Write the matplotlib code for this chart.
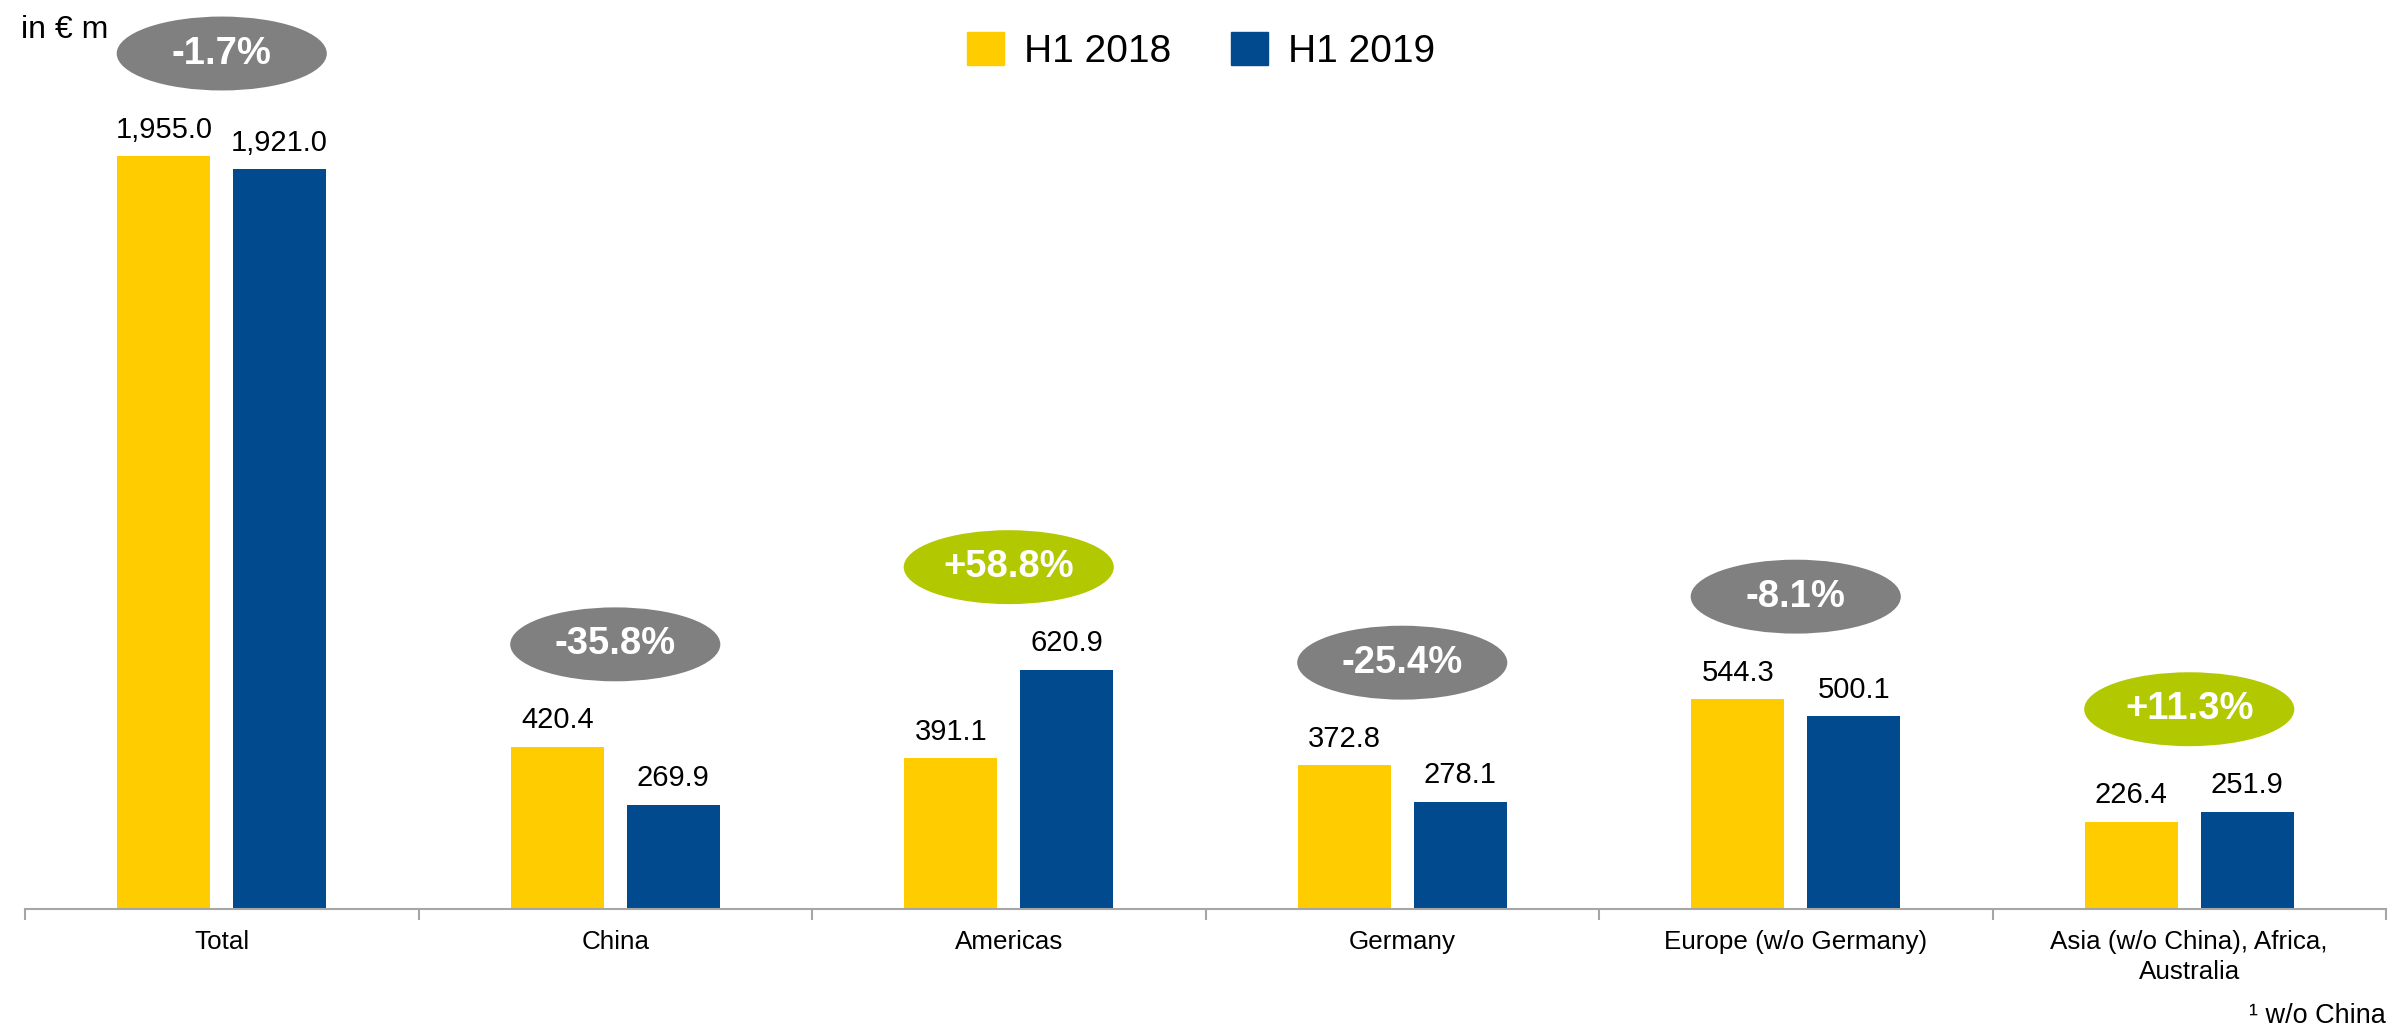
import matplotlib
matplotlib.use("Agg")
import matplotlib.pyplot as plt
from matplotlib.patches import Ellipse, Patch
import numpy as np

plt.rcParams['font.family'] = ['Liberation Sans', 'DejaVu Sans']

categories = ["Total", "China", "Americas", "Germany", "Europe (w/o Germany)",
              "Asia (w/o China), Africa,\nAustralia"]
h1_2018 = [1955.0, 420.4, 391.1, 372.8, 544.3, 226.4]
h1_2019 = [1921.0, 269.9, 620.9, 278.1, 500.1, 251.9]
changes = ["-1.7%", "-35.8%", "+58.8%", "-25.4%", "-8.1%", "+11.3%"]
series_names = ["H1 2018", "H1 2019"]

YELLOW = "#FFCC00"
BLUE = "#004A8D"
GRAY = "#808080"
GREEN = "#B2C800"
AXIS = "#A6A6A6"

W, H = 2403, 1030
fig = plt.figure(figsize=(W / 100, H / 100), dpi=100)
ax = fig.add_axes([25 / W, 1 - 909 / H, (2386 - 25) / W, 909 / H])

x = np.arange(len(categories))
bw = 0.236
off = 0.147
b1 = ax.bar(x - off, h1_2018, bw, color=YELLOW, label=series_names[0])
b2 = ax.bar(x + off, h1_2019, bw, color=BLUE, label=series_names[1])

for bars, vals in ((b1, h1_2018), (b2, h1_2019)):
    for r, v in zip(bars, vals):
        ax.annotate(f"{v:,.1f}", (r.get_x() + r.get_width() / 2, v),
                    xytext=(0, 13.5), textcoords="offset points",
                    ha="center", va="baseline", fontsize=21, color="black")

ax.set_xlim(-0.5, len(categories) - 0.5)
ax.set_ylim(0, 2361)

for i, c in enumerate(changes):
    yc = max(h1_2018[i], h1_2019[i]) + 267
    col = GREEN if c.startswith("+") else GRAY
    ax.add_patch(Ellipse((x[i], yc), width=0.534, height=192, facecolor=col,
                         edgecolor="none", zorder=3))
    ax.text(x[i], yc, c, ha="center", va="center", color="white",
            fontsize=27.5, fontweight="bold", zorder=4)

for s in ("top", "right", "left"):
    ax.spines[s].set_visible(False)
ax.spines["bottom"].set_color(AXIS)
ax.spines["bottom"].set_linewidth(1.5)
ax.set_yticks([])
ax.set_xticks(x)
ax.set_xticklabels(categories, fontsize=18.7, linespacing=1.3)
ax.tick_params(axis="x", which="major", length=0, pad=15)
ax.set_xticks(np.arange(-0.5, len(categories)), minor=True)
ax.tick_params(axis="x", which="minor", length=8, width=1.5, color=AXIS,
               direction="out")

fig.legend(handles=[Patch(color=YELLOW), Patch(color=BLUE)],
           labels=series_names, loc="center", bbox_to_anchor=(1201 / W, 1 - 51 / H),
           ncol=2, frameon=False, fontsize=28, handlelength=0.95, handleheight=0.95,
           handletextpad=0.5, columnspacing=1.55)

fig.text(21 / W, 1 - 38 / H, "in € m", fontsize=23, va="baseline", ha="left")
fig.text(2386 / W, 1 - 1016 / H, "¹ w/o China", fontsize=19.5, va="center", ha="right")

fig.savefig("out.png", dpi=100)
